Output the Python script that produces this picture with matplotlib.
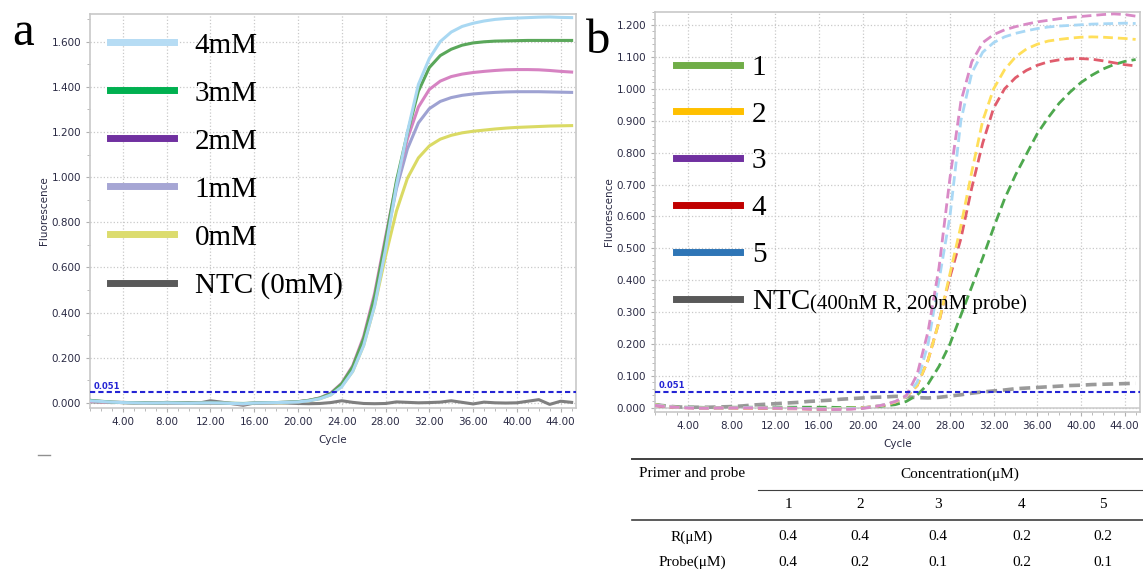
import matplotlib.pyplot as plt
from matplotlib.lines import Line2D
from matplotlib.ticker import MultipleLocator, FormatStrFormatter

W, H = 1143, 578
cycles = list(range(1, 46))
threshold = 0.051

# ---- panel a: amplification curves at different Mg2+ concentrations
a_labels = ['4mM', '3mM', '2mM', '1mM', '0mM', 'NTC (0mM)']
a_4mM = [0.010, 0.007, 0.004, 0.002, 0.001, 0.000, 0.000, 0.001, 0.000, -0.001,
         0.000, 0.001, 0.000, -0.002, -0.003, 0.000, 0.001, 0.002, 0.003,
         0.005, 0.010, 0.019, 0.036, 0.072, 0.140, 0.255, 0.430, 0.680, 0.965,
         1.200, 1.410, 1.525, 1.600, 1.642, 1.667, 1.681, 1.691, 1.698, 1.702,
         1.704, 1.706, 1.708, 1.709, 1.707, 1.706]
a_3mM = [0.012, 0.008, 0.004, 0.002, 0.001, 0.001, 0.000, 0.001, 0.001, 0.000,
         0.000, 0.001, 0.000, -0.001, -0.002, 0.000, 0.001, 0.002, 0.004,
         0.006, 0.012, 0.022, 0.042, 0.085, 0.160, 0.285, 0.470, 0.720, 0.985,
         1.195, 1.380, 1.485, 1.538, 1.566, 1.584, 1.594, 1.599, 1.602, 1.603,
         1.604, 1.605, 1.605, 1.605, 1.605, 1.605]
a_2mM = [0.008, 0.005, 0.003, 0.002, 0.001, 0.000, 0.000, 0.000, 0.000, -0.001,
         -0.001, 0.000, -0.001, -0.002, -0.003, -0.001, 0.000, 0.002, 0.003,
         0.006, 0.012, 0.023, 0.044, 0.088, 0.165, 0.295, 0.485, 0.735, 0.975,
         1.170, 1.310, 1.388, 1.425, 1.445, 1.456, 1.463, 1.468, 1.472, 1.475,
         1.476, 1.476, 1.475, 1.472, 1.468, 1.465]
a_1mM = [0.011, 0.007, 0.004, 0.002, 0.001, 0.001, 0.000, 0.001, 0.000, 0.000,
         0.000, 0.001, 0.000, -0.002, -0.003, -0.001, 0.001, 0.002, 0.003,
         0.005, 0.011, 0.021, 0.040, 0.082, 0.155, 0.280, 0.465, 0.710, 0.950,
         1.125, 1.240, 1.303, 1.335, 1.352, 1.362, 1.368, 1.372, 1.375, 1.377,
         1.378, 1.378, 1.378, 1.377, 1.376, 1.375]
a_0mM = [0.009, 0.006, 0.003, 0.002, 0.001, 0.000, 0.000, 0.000, 0.000, -0.001,
         0.000, 0.000, 0.000, -0.002, -0.003, -0.001, 0.000, 0.001, 0.002,
         0.005, 0.010, 0.019, 0.036, 0.075, 0.140, 0.255, 0.430, 0.650, 0.850,
         0.995, 1.085, 1.138, 1.168, 1.185, 1.196, 1.203, 1.208, 1.213, 1.217,
         1.220, 1.222, 1.224, 1.226, 1.227, 1.228]
a_ntc = [0.005, 0.004, 0.002, 0.003, 0.001, 0.002, 0.000, 0.003, 0.001, 0.002,
         0.000, 0.010, 0.004, -0.003, -0.010, 0.000, 0.002, 0.001, 0.000, -0.002,
         -0.003, -0.002, 0.002, 0.010, 0.003, -0.002, -0.003, -0.002, 0.005, 0.003,
         0.001, 0.002, 0.004, 0.010, 0.003, -0.004, 0.004, 0.001, 0.000, 0.001,
         0.008, 0.015, -0.006, 0.008, 0.003]
a_series = [a_4mM, a_3mM, a_2mM, a_1mM, a_0mM, a_ntc]
a_line_colors = ['#a9d8f2', '#5aa75a', '#d683c2', '#9ea2d2', '#dada64', '#7f7f7f']
a_key_colors = ['#b6dcf4', '#00b050', '#7030a0', '#a6a6d4', '#dcdc6e', '#595959']

# ---- panel b: primer / probe concentration combinations
b_labels = ['1', '2', '3', '4', '5', 'NTC']
b_ntc_note = '(400nM R, 200nM probe)'
b_1 = [0.010, 0.006, 0.003, 0.002, 0.002, 0.001, 0.001, 0.002, 0.002, 0.002,
       0.002, 0.002, 0.002, 0.002, 0.002, 0.002, 0.002, 0.001, 0.001,
       0.001, 0.003, 0.006, 0.010, 0.020, 0.040, 0.075, 0.130, 0.200, 0.290,
       0.380, 0.470, 0.565, 0.655, 0.730, 0.795, 0.860, 0.910, 0.955, 0.990,
       1.020, 1.043, 1.062, 1.076, 1.086, 1.092]
b_2 = [0.010, 0.005, 0.002, 0.001, 0.000, 0.000, 0.000, 0.000, 0.000, 0.000,
       0.000, -0.001, -0.001, -0.002, -0.002, -0.003, -0.003, -0.002, -0.001,
       0.000, 0.004, 0.009, 0.018, 0.035, 0.070, 0.150, 0.270, 0.420, 0.570,
       0.740, 0.900, 1.000, 1.060, 1.100, 1.125, 1.140, 1.150, 1.155, 1.159,
       1.162, 1.163, 1.162, 1.160, 1.158, 1.155]
b_3 = [0.008, 0.004, 0.002, 0.000, -0.001, -0.001, 0.000, 0.000, 0.000, 0.000,
       0.000, -0.001, -0.001, -0.002, -0.003, -0.004, -0.005, -0.005, -0.004,
       -0.002, 0.003, 0.010, 0.020, 0.038, 0.105, 0.240, 0.440, 0.720, 0.960,
       1.085, 1.145, 1.170, 1.185, 1.195, 1.203, 1.210, 1.215, 1.220, 1.224,
       1.227, 1.230, 1.233, 1.235, 1.233, 1.228]
b_4 = [0.007, 0.003, 0.001, 0.000, -0.001, -0.001, -0.001, -0.001, -0.001, -0.001,
       -0.002, -0.002, -0.003, -0.003, -0.004, -0.005, -0.005, -0.004, -0.003,
       0.000, 0.004, 0.009, 0.018, 0.035, 0.070, 0.150, 0.270, 0.410, 0.530,
       0.690, 0.830, 0.940, 1.000, 1.035, 1.058, 1.074, 1.085, 1.091, 1.094,
       1.095, 1.093, 1.088, 1.082, 1.076, 1.072]
b_5 = [0.009, 0.005, 0.002, 0.001, 0.000, 0.000, 0.000, 0.000, 0.001, 0.001,
       0.000, 0.000, -0.001, -0.001, -0.002, -0.003, -0.003, -0.003, -0.002,
       -0.001, 0.004, 0.010, 0.020, 0.036, 0.080, 0.200, 0.400, 0.600, 0.900,
       1.050, 1.115, 1.145, 1.163, 1.174, 1.182, 1.189, 1.194, 1.197, 1.199,
       1.201, 1.203, 1.204, 1.205, 1.206, 1.205]
b_ntc = [0.010, 0.006, 0.003, 0.002, 0.002, 0.002, 0.003, 0.004, 0.006, 0.009,
         0.011, 0.013, 0.015, 0.017, 0.020, 0.022, 0.024, 0.027, 0.029, 0.031,
         0.033, 0.034, 0.036, 0.035, 0.032, 0.031, 0.033, 0.037, 0.041, 0.046,
         0.050, 0.053, 0.056, 0.060, 0.062, 0.064, 0.066, 0.068, 0.070, 0.071,
         0.073, 0.074, 0.075, 0.076, 0.077]
b_series = [b_1, b_2, b_3, b_4, b_5, b_ntc]
b_line_colors = ['#4ea84e', '#ffdf5a', '#d98ac6', '#e05c6c', '#a9d8f5', '#9a9a9a']
b_key_colors = ['#70ad47', '#ffc000', '#7030a0', '#c00000', '#2e75b6', '#595959']

# ---- table under panel b
tab_cols = ['1', '2', '3', '4', '5']
tab_R = ['0.4', '0.4', '0.4', '0.2', '0.2']
tab_probe = ['0.4', '0.2', '0.1', '0.2', '0.1']

serif = 'Liberation Serif'
tick_col = '#2a2a44'
grid_col = '#c9c9c9'


def style_axes(ax, ymax, ymin, ymajor, yminor):
    ax.set_xlim(1, 45.4)
    ax.set_ylim(ymin, ymax)
    ax.xaxis.set_major_locator(MultipleLocator(4))
    ax.xaxis.set_minor_locator(MultipleLocator(1))
    ax.yaxis.set_major_locator(MultipleLocator(ymajor))
    ax.yaxis.set_minor_locator(MultipleLocator(yminor))
    ax.xaxis.set_major_formatter(FormatStrFormatter('%.2f'))
    ax.yaxis.set_major_formatter(FormatStrFormatter('%.3f'))
    ax.set_xticks([t for t in range(4, 45, 4)])
    ax.grid(True, which='major', color=grid_col, linestyle=':', linewidth=0.9)
    for s in ax.spines.values():
        s.set_color('#c8c8c8')
        s.set_linewidth(1.2)
    ax.tick_params(which='both', colors='#b0b0b0', labelcolor=tick_col, labelsize=7.5)
    ax.tick_params(which='major', length=3)
    ax.tick_params(which='minor', length=2)
    ax.set_xlabel('Cycle', fontsize=7.5, color=tick_col, labelpad=6)
    ax.set_ylabel('Fluorescence', fontsize=7.5, color=tick_col, labelpad=1.5)
    ax.axhline(threshold, color='#2424d4', linestyle=(0, (2.5, 1.5)), linewidth=1.5, zorder=5)
    ax.text(1.3, threshold + 0.004, '%.3f' % threshold, color='#2424d4', fontsize=6,
            fontweight='bold', va='bottom', ha='left', zorder=6)


fig = plt.figure(figsize=(W / 100, H / 100), dpi=100)

# panel a
ax_a = fig.add_axes([90 / W, 1 - 408 / H, 486 / W, 394 / H])
style_axes(ax_a, 1.722, -0.022, 0.2, 0.1)
ax_a.plot(cycles, a_ntc, color=a_line_colors[5], linewidth=2.2, zorder=2)
for i in [4, 3, 2, 1, 0]:
    ax_a.plot(cycles, a_series[i], color=a_line_colors[i], linewidth=2.2, zorder=3)
a_handles = [Line2D([0], [0], color=c, linewidth=5) for c in a_key_colors]
ax_a.legend(a_handles, a_labels, loc='upper left', bbox_to_anchor=(0.041, 0.954),
            frameon=False, prop={'family': serif, 'size': 21}, handlelength=2.2,
            handletextpad=0.7, labelspacing=0.74, borderpad=0, borderaxespad=0)

# panel b
ax_b = fig.add_axes([655 / W, 1 - 412 / H, 485 / W, 400 / H])
style_axes(ax_b, 1.241, -0.013, 0.1, 0.02)
ax_b.axhline(0, color='#d0d0d0', linewidth=1.2, zorder=1)
ax_b.plot(cycles, b_ntc, color=b_line_colors[5], linewidth=2.6,
          linestyle=(0, (3, 1.6)), zorder=2)
for i in [0, 3, 1, 4, 2]:
    ax_b.plot(cycles, b_series[i], color=b_line_colors[i], linewidth=2.0,
              linestyle=(0, (3.5, 1.8)), zorder=3)
b_handles = [Line2D([0], [0], color=c, linewidth=5) for c in b_key_colors]
leg_b = ax_b.legend(b_handles, b_labels, loc='upper left', bbox_to_anchor=(0.043, 0.894),
                    frameon=False, prop={'family': serif, 'size': 21}, handlelength=2.2,
                    handletextpad=0.4, labelspacing=0.70, borderpad=0, borderaxespad=0)

# small note right after "NTC"
fig.canvas.draw()
bb = leg_b.get_texts()[-1].get_window_extent()
fig.text(bb.x1 / W, (bb.y0 + 1) / H, b_ntc_note, family=serif, fontsize=15,
         va='bottom', ha='left')

# panel letters
fig.text(23 / W, 1 - 33 / H, 'a', family=serif, fontsize=35, ha='center', va='center')
fig.text(598 / W, 1 - 41 / H, 'b', family=serif, fontsize=35, ha='center', va='center')

# stray mark under panel a
fig.add_artist(Line2D([38 / W, 50 / W], [1 - 455 / H, 1 - 455 / H], color='#909090', linewidth=1))

# table
def hrule(y, x0, x1, lw):
    fig.add_artist(Line2D([x0 / W, x1 / W], [1 - y / H, 1 - y / H], color='#404040', linewidth=lw))

hrule(459, 632, W, 1.4)
hrule(490, 758, W, 0.8)
hrule(520, 632, W, 1.2)

col_x = [788, 860, 938, 1022, 1103]
fig.text(692 / W, 1 - 474 / H, 'Primer and probe', family=serif, fontsize=11, ha='center', va='center')
fig.text(960 / W, 1 - 474 / H, 'Concentration(μM)', family=serif, fontsize=11, ha='center', va='center')
for x, c in zip(col_x, tab_cols):
    fig.text(x / W, 1 - 504 / H, c, family=serif, fontsize=11, ha='center', va='center')
fig.text(692 / W, 1 - 537 / H, 'R(μM)', family=serif, fontsize=11, ha='center', va='center')
fig.text(692 / W, 1 - 562 / H, 'Probe(μM)', family=serif, fontsize=11, ha='center', va='center')
for x, r, p in zip(col_x, tab_R, tab_probe):
    fig.text(x / W, 1 - 537 / H, r, family=serif, fontsize=11, ha='center', va='center')
    fig.text(x / W, 1 - 562 / H, p, family=serif, fontsize=11, ha='center', va='center')

fig.savefig('out.png', dpi=100)
